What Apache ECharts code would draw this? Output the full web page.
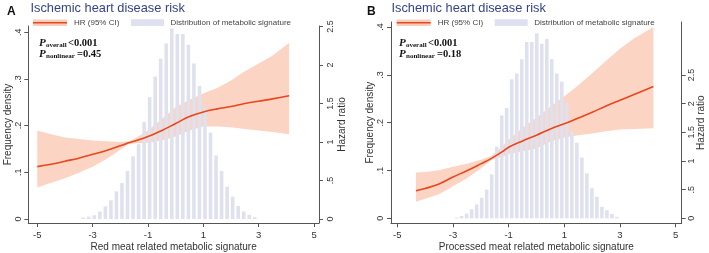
<!DOCTYPE html>
<html>
<head>
<meta charset="utf-8">
<script src="https://cdn.jsdelivr.net/npm/echarts@6/dist/echarts.min.js"></script>
<style>
  html, body { margin: 0; padding: 0; background: #fff; }
  #main { width: 709px; height: 253px; }
</style>
</head>
<body>
<div id="main"></div>
<script>
// ---- panel A : red meat ----
const binsA = [-3.34, -3.14, -2.94, -2.74, -2.54, -2.34, -2.14, -1.94, -1.74, -1.54, -1.34, -1.14, -0.94, -0.74, -0.54, -0.34,
  -0.14, 0.06, 0.26, 0.46, 0.66, 0.86, 1.06, 1.26, 1.46, 1.66, 1.86, 2.06, 2.26, 2.46, 2.66, 2.86]
const densA = [0.003, 0.005, 0.008, 0.016, 0.027, 0.040, 0.059, 0.077, 0.103, 0.134, 0.160, 0.208, 0.261, 0.305, 0.343, 0.376,
  0.408, 0.396, 0.396, 0.373, 0.333, 0.285, 0.240, 0.185, 0.136, 0.103, 0.069, 0.048, 0.028, 0.016, 0.009, 0.004]
const xA = [-5.0, -4.5, -4.0, -3.5, -3.0, -2.5, -2.0, -1.7, -1.5, -1.0, -0.5, 0.0, 0.5, 1.0, 1.5, 2.0, 2.5, 3.0, 3.5, 4.1]
const hrA = [0.68, 0.71, 0.75, 0.79, 0.84, 0.89, 0.95, 0.99, 1.01, 1.07, 1.15, 1.24, 1.33, 1.39, 1.43, 1.46, 1.50, 1.53, 1.56, 1.60]
const loA = [0.41, 0.47, 0.53, 0.60, 0.68, 0.78, 0.90, 0.97, 0.98, 0.99, 1.02, 1.07, 1.15, 1.20, 1.20, 1.19, 1.17, 1.15, 1.13, 1.10]
const hiA = [1.15, 1.10, 1.06, 1.04, 1.02, 1.01, 1.00, 1.01, 1.04, 1.15, 1.30, 1.45, 1.55, 1.63, 1.70, 1.80, 1.92, 2.02, 2.12, 2.29]

// ---- panel B : processed meat ----
const binsB = [-2.87, -2.69, -2.51, -2.33, -2.15, -1.97, -1.79, -1.61, -1.43, -1.25, -1.07, -0.89, -0.71, -0.53, -0.35, -0.17,
  0.01, 0.19, 0.37, 0.55, 0.73, 0.91, 1.09, 1.27, 1.45, 1.63, 1.81, 1.99, 2.17, 2.35, 2.53, 2.71, 2.89]
const densB = [0.002, 0.005, 0.010, 0.019, 0.029, 0.043, 0.060, 0.092, 0.150, 0.215, 0.231, 0.291, 0.303, 0.333, 0.369, 0.369,
  0.387, 0.365, 0.375, 0.333, 0.303, 0.286, 0.242, 0.181, 0.158, 0.127, 0.094, 0.063, 0.045, 0.024, 0.017, 0.009, 0.003]
const xB = [-4.33, -4.0, -3.5, -3.0, -2.5, -2.0, -1.6, -1.2, -1.0, -0.5, 0.0, 0.5, 1.0, 1.5, 2.0, 2.5, 3.0, 3.5, 4.2]
const hrB = [0.48, 0.52, 0.60, 0.72, 0.83, 0.95, 1.05, 1.17, 1.24, 1.35, 1.45, 1.56, 1.65, 1.75, 1.85, 1.96, 2.06, 2.16, 2.30]
const loB = [0.29, 0.34, 0.42, 0.56, 0.70, 0.87, 1.02, 1.08, 1.12, 1.17, 1.22, 1.34, 1.41, 1.45, 1.48, 1.52, 1.55, 1.56, 1.57]
const hiB = [0.80, 0.81, 0.84, 0.90, 0.95, 1.02, 1.09, 1.27, 1.37, 1.58, 1.76, 1.95, 2.13, 2.32, 2.53, 2.75, 2.96, 3.14, 3.34]

const xTicks = [-5, -3, -1, 1, 3, 5]
const densTicks = [0, 0.1, 0.2, 0.3, 0.4]
const hrTicks = [0, 0.5, 1, 1.5, 2, 2.5]

const font = 'Liberation Sans, Arial, sans-serif'
const serif = 'Liberation Serif, Times New Roman, serif'
const lineColor = '#e8471d'
const bandColor = 'rgba(250, 196, 172, 0.72)'
const barColor = '#dfe1ee'
const axisColor = '#555'
const txtColor = '#333'

const fmt = v => (v === 0 ? '0' : String(v).replace(/^0/, ''))
const zip = (a, b) => a.map((v, i) => [v, b[i]])

function xAxisOpt (grid, min, max, name) {
  return {
    type: 'value', gridIndex: grid, min: min, max: max,
    name: name, nameLocation: 'middle', nameGap: 19, nameMoveOverlap: false,
    nameTextStyle: { fontFamily: font, fontSize: 10, color: txtColor },
    axisLine: { onZero: false, lineStyle: { color: axisColor, width: 1 } },
    axisTick: { customValues: xTicks, length: 4, lineStyle: { color: axisColor } },
    axisLabel: { customValues: xTicks, margin: 7, fontFamily: font, fontSize: 9.5, color: txtColor },
    splitLine: { show: false }
  }
}

function yAxisOpt (grid, pos, min, max, ticks, name, margin, gap) {
  return {
    type: 'value', gridIndex: grid, position: pos, min: min, max: max,
    name: name, nameLocation: 'middle', nameGap: gap, nameMoveOverlap: false,
    nameTextStyle: { fontFamily: font, fontSize: 10, color: txtColor },
    axisLine: { show: true, onZero: false, lineStyle: { color: axisColor, width: 1 } },
    axisTick: { show: true, customValues: ticks, length: 4, lineStyle: { color: axisColor } },
    axisLabel: { customValues: ticks, rotate: 90, margin: margin, fontFamily: font, fontSize: 9, color: txtColor, formatter: fmt },
    splitLine: { show: false }
  }
}

// confidence band: one polygon, upper edge left->right then lower edge back
function bandRender (xs, lo, hi) {
  return function (params, api) {
    if (params.dataIndex !== 0) return null
    const top = xs.map((x, i) => api.coord([x, hi[i]]))
    const bot = xs.map((x, i) => api.coord([x, lo[i]])).reverse()
    return {
      type: 'polygon',
      shape: { points: top.concat(bot) },
      style: { fill: bandColor },
      silent: true
    }
  }
}

function panelSeries (xi, yl, yr, bins, dens, xs, hr, lo, hi) {
  return [
    {
      type: 'bar', xAxisIndex: xi, yAxisIndex: yl, data: zip(bins, dens),
      barWidth: 3.6, itemStyle: { color: barColor }, silent: true
    },
    {
      type: 'custom', xAxisIndex: xi, yAxisIndex: yr, data: zip(xs, hr),
      renderItem: bandRender(xs, lo, hi), silent: true
    },
    {
      type: 'line', xAxisIndex: xi, yAxisIndex: yr, data: zip(xs, hr),
      smooth: 0.4, symbol: 'none', lineStyle: { color: lineColor, width: 1.6 }, silent: true
    }
  ]
}

function panelGraphics (ox, letter, title, pAll, pNon, lg) {
  return [
    { type: 'text', x: ox + 7, y: 12, style: { text: letter, fontFamily: font, fontWeight: 'bold', fontSize: 12, fill: '#111', verticalAlign: 'middle' } },
    { type: 'text', x: ox + title, y: 8, style: { text: 'Ischemic heart disease risk', fontFamily: font, fontSize: 12.8, fill: '#33448a', verticalAlign: 'middle' } },
    { type: 'rect', shape: { x: ox + lg, y: 19.5, width: 34, height: 6.5 }, style: { fill: 'rgba(250, 200, 178, 0.9)' } },
    { type: 'line', shape: { x1: ox + lg, y1: 22.7, x2: ox + lg + 34, y2: 22.7 }, style: { stroke: lineColor, lineWidth: 1.4 } },
    { type: 'text', x: ox + lg + 41, y: 23, style: { text: 'HR (95% CI)', fontFamily: font, fontSize: 8, fill: '#444', verticalAlign: 'middle' } },
    { type: 'rect', shape: { x: ox + lg + 98, y: 19.3, width: 33, height: 6.7 }, style: { fill: barColor } },
    { type: 'text', x: ox + lg + 137.5, y: 23, style: { text: 'Distribution of metabolic signature', fontFamily: font, fontSize: 8, fill: '#444', verticalAlign: 'middle' } },
    { type: 'text', x: ox + 39, y: 43, style: { text: 'P', fontFamily: serif, fontStyle: 'italic', fontWeight: 'bold', fontSize: 11, fill: '#111', verticalAlign: 'middle' } },
    { type: 'text', x: ox + 46, y: 45, style: { text: 'overall', fontFamily: serif, fontWeight: 'bold', fontSize: 7, fill: '#111', verticalAlign: 'middle' } },
    { type: 'text', x: ox + 68, y: 43, style: { text: pAll, fontFamily: serif, fontWeight: 'bold', fontSize: 10.5, fill: '#111', verticalAlign: 'middle' } },
    { type: 'text', x: ox + 39, y: 54.5, style: { text: 'P', fontFamily: serif, fontStyle: 'italic', fontWeight: 'bold', fontSize: 11, fill: '#111', verticalAlign: 'middle' } },
    { type: 'text', x: ox + 46, y: 56.5, style: { text: 'nonlinear', fontFamily: serif, fontWeight: 'bold', fontSize: 7, fill: '#111', verticalAlign: 'middle' } },
    { type: 'text', x: ox + 77, y: 54.5, style: { text: pNon, fontFamily: serif, fontWeight: 'bold', fontSize: 10.5, fill: '#111', verticalAlign: 'middle' } }
  ]
}

const chart = echarts.init(document.getElementById('main'), null, { renderer: 'canvas' })
const option = {
  animation: false,
  backgroundColor: '#fff',
  grid: [
    { left: 28.3, top: 26, width: 290.7, height: 197, outerBoundsMode: 'none', containLabel: false },
    { left: 391, top: 22, width: 290.7, height: 201.3, outerBoundsMode: 'none', containLabel: false }
  ],
  xAxis: [
    xAxisOpt(0, -5.325, 5.18, 'Red meat related metabolic signature'),
    xAxisOpt(1, -5.226, 5.216, 'Processed meat related metabolic signature')
  ],
  yAxis: [
    yAxisOpt(0, 'left', -4 / 467, 193 / 467, densTicks, 'Frequency density', 5.5, 15),
    yAxisOpt(0, 'right', -4 / 77, 193 / 77, hrTicks, 'Hazard ratio', 7.5, 18),
    yAxisOpt(1, 'left', -5 / 478, 196.3 / 478, densTicks, 'Frequency density', 5.8, 15.3),
    yAxisOpt(1, 'right', -5 / 57.3, 196.3 / 57.3, hrTicks, 'Hazard ratio', 5.5, 14.5)
  ],
  series: [
    ...panelSeries(0, 0, 1, binsA, densA, xA, hrA, loA, hiA),
    ...panelSeries(1, 2, 3, binsB, densB, xB, hrB, loB, hiB)
  ],
  graphic: [
    ...panelGraphics(0, 'A', 30.5, '<0.001', '=0.45', 33),
    ...panelGraphics(360, 'B', 31.5, '<0.001', '=0.18', 36.7)
  ]
}
chart.setOption(option)
</script>
</body>
</html>
